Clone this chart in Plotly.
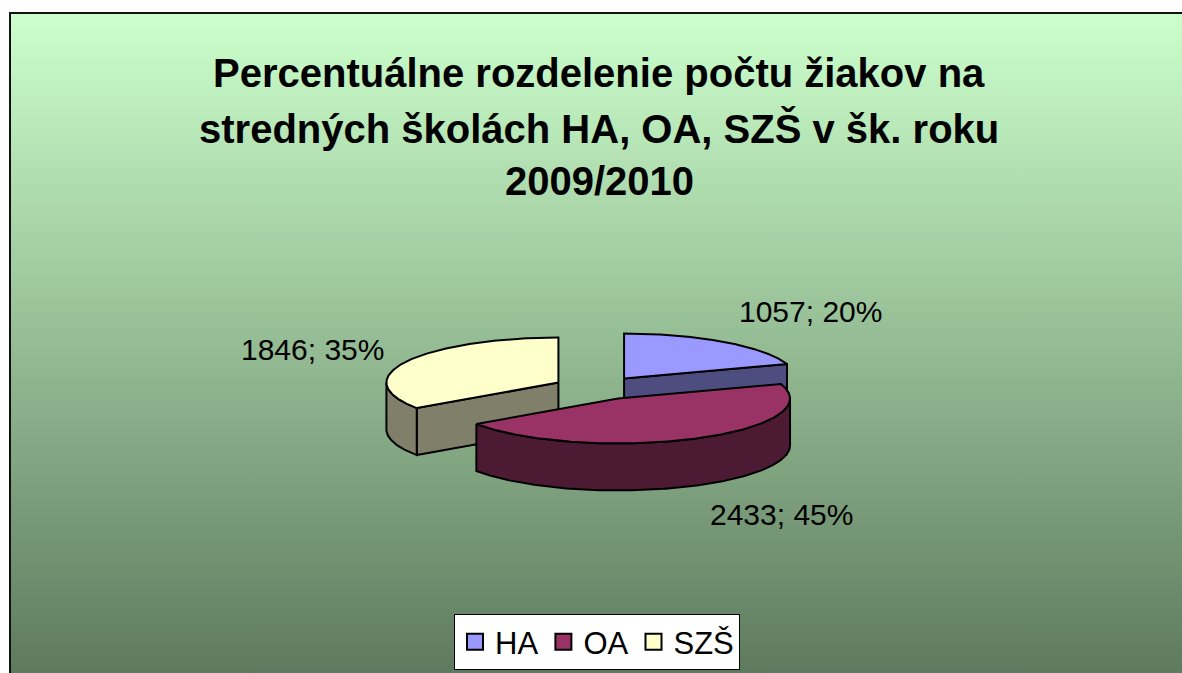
import numpy as np
import plotly.graph_objects as go

# ---- data ----
categories = ["HA", "OA", "SZŠ"]
counts = [1057, 2433, 1846]
percent_labels = ["20%", "45%", "35%"]
title_lines = ["Percentuálne rozdelenie počtu žiakov na",
               "stredných školách HA, OA, SZŠ v šk. roku",
               "2009/2010"]

# ---- style ----
W, H = 1182, 673
FONT = "Liberation Sans, Arial, sans-serif"
top_colors = ["#9999FF", "#993366", "#FFFFCC"]
side_colors = ["#4D4D80", "#4D1A33", "#80806A"]
label_pos = [(810, 311), (781, 514), (312, 349)]  # text placement (px)
title_y = [73, 128, 181]

CX, CY = 598, 388      # pie centre in px
RX, RY = 172, 45       # projected ellipse radii
DEPTH = 47             # projected thickness
EXPLODE = 0.26

fig = go.Figure()

# background panel with vertical gradient
fig.add_trace(go.Scatter(
    x=[10, W + 30, W + 30, 10, 10], y=[13, 13, H + 30, H + 30, 13],
    mode="none", fill="toself",
    fillgradient=dict(type="vertical", start=13, stop=H,
                      colorscale=[[0, "#CCFFCC"], [1, "#5E7A5E"]]),
    hoverinfo="skip", showlegend=False))
# panel border (left and top edges are the visible ones)
fig.add_trace(go.Scatter(
    x=[10, 10, W + 30], y=[H + 30, 13, 13], mode="lines",
    line=dict(color="#111111", width=2), hoverinfo="skip", showlegend=False))

total = float(sum(counts))
slices = []
ang = 90.0
for i, v in enumerate(counts):
    sweep = 360.0 * v / total
    a_end, a_start = ang, ang - sweep
    mid = np.radians((a_start + a_end) / 2)
    cx = CX + EXPLODE * RX * np.cos(mid)
    cy = CY - EXPLODE * RY * np.sin(mid)
    slices.append(dict(i=i, a0=a_start, a1=a_end, cx=cx, cy=cy, depth_key=np.sin(mid)))
    ang = a_start


def P(cx, cy, deg, dz=0.0):
    t = np.radians(deg)
    return cx + RX * np.cos(t), cy - RY * np.sin(t) + dz


def poly(xs, ys, color):
    fig.add_trace(go.Scatter(
        x=list(xs) + [xs[0]], y=list(ys) + [ys[0]], mode="lines", fill="toself",
        fillcolor=color, line=dict(color="black", width=2),
        hoverinfo="skip", showlegend=False))


for s in sorted(slices, key=lambda d: -d["depth_key"]):
    i, a0, a1, cx, cy = s["i"], s["a0"], s["a1"], s["cx"], s["cy"]
    # radial faces
    for edge, normal in ((a0, a0 - 90), (a1, a1 + 90)):
        if np.sin(np.radians(normal)) < -1e-3:
            px, py = P(cx, cy, edge)
            poly([cx, px, px, cx], [cy, py, py + DEPTH, cy + DEPTH], side_colors[i])
    # curved outer side (front half only)
    for k in (-1, 0, 1):
        lo, hi = max(a0, -180 + 360 * k), min(a1, 360 * k)
        if hi - lo > 0.01:
            th = np.linspace(lo, hi, 200)
            tx, ty = P(cx, cy, th)
            bx, by = P(cx, cy, th[::-1], DEPTH)
            poly(np.concatenate([tx, bx]), np.concatenate([ty, by]), side_colors[i])
    # top face
    th = np.linspace(a0, a1, 300)
    ax_, ay_ = P(cx, cy, th)
    poly(np.concatenate([[cx], ax_]), np.concatenate([[cy], ay_]), top_colors[i])

# legend entries
for i, c in enumerate(categories):
    fig.add_trace(go.Scatter(
        x=[None], y=[None], mode="markers", name=c,
        marker=dict(symbol="square", size=18, color=top_colors[i],
                    line=dict(color="black", width=2))))

# data labels
for i in range(len(categories)):
    fig.add_annotation(x=label_pos[i][0], y=label_pos[i][1], xref="x", yref="y",
                       text=f"{counts[i]}; {percent_labels[i]}", showarrow=False,
                       font=dict(family=FONT, size=30, color="black"))

# title lines
for line, ty in zip(title_lines, title_y):
    fig.add_annotation(x=599, y=ty, xref="x", yref="y", text=line, showarrow=False,
                       yanchor="middle",
                       font=dict(family=FONT, size=40, color="black", weight="bold"))

fig.update_layout(
    width=W, height=H, margin=dict(l=0, r=0, t=0, b=0),
    paper_bgcolor="white", plot_bgcolor="white",
    xaxis=dict(range=[0, W], visible=False, fixedrange=True),
    yaxis=dict(range=[H, 0], visible=False, fixedrange=True),
    legend=dict(orientation="h", x=454 / W, y=1 - 614 / H, xanchor="left", yanchor="top",
                bgcolor="white", bordercolor="black", borderwidth=1,
                font=dict(family=FONT, size=31, color="black")),
    showlegend=True,
)

fig.write_html(
    "out.html", config={"displayModeBar": False},
    post_script=("document.body.style.margin='0';"
                 "document.body.style.overflow='hidden';"
                 "document.documentElement.style.overflow='hidden';"))
